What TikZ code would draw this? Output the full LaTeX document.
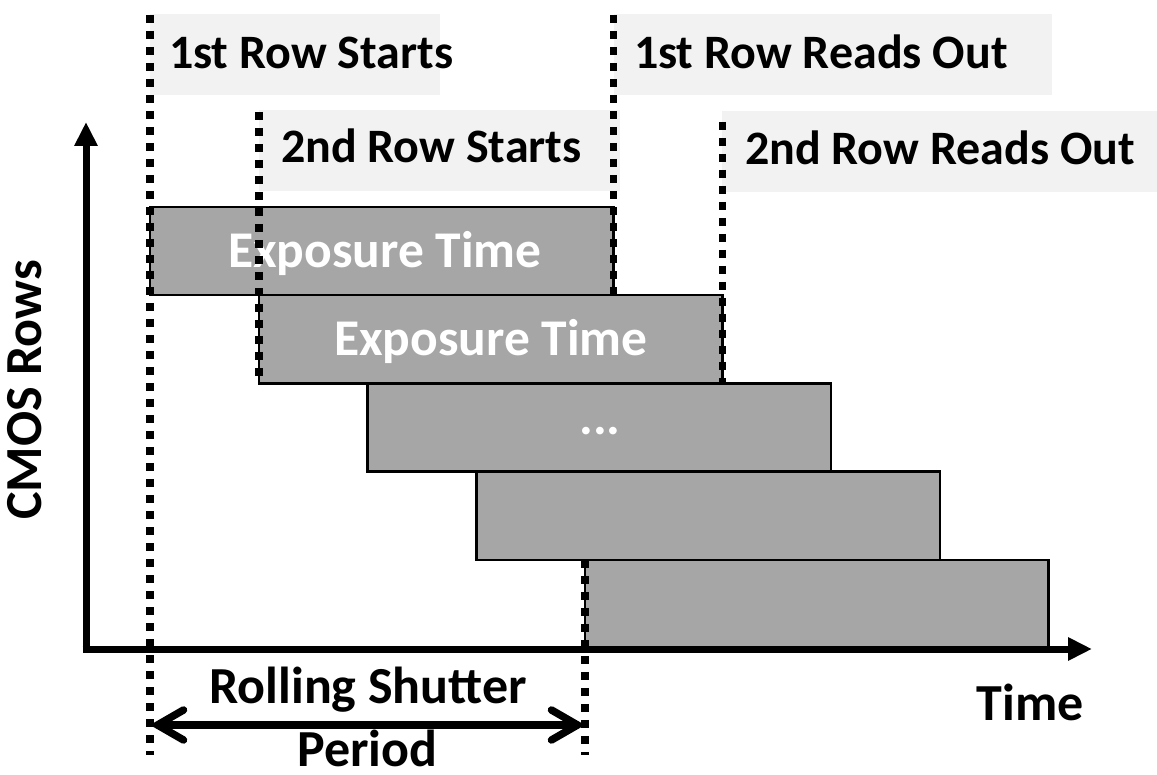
\documentclass[tikz,border=0pt]{standalone}
\usepackage{fontspec}
\setmainfont{Carlito}
\usetikzlibrary{arrows.meta}
\definecolor{barfill}{HTML}{A6A6A6}
\definecolor{tagfill}{HTML}{F2F2F2}
\begin{document}
\begin{tikzpicture}[x=1pt,y=-1pt,
  txt/.style={font=\fontsize{52}{56}\selectfont\bfseries, inner sep=0pt, outer sep=0pt},
  tagtxt/.style={font=\fontsize{48}{52}\selectfont\bfseries, inner sep=0pt, outer sep=0pt, anchor=base west},
  bar/.style={draw=black, line width=2.5pt, fill=barfill, minimum width=463.5pt,
    minimum height=88.2pt, anchor=north west, inner sep=0pt, outer sep=0pt},
  bartxt/.style={font=\fontsize{51.5}{56}\selectfont\bfseries, inner sep=0pt, outer sep=0pt, text=white, anchor=base},
  tag/.style={fill=tagfill, anchor=north west, inner sep=0pt, outer sep=0pt},
  dotline/.style={line width=7.5pt, dash pattern=on 8pt off 8pt},
  axisline/.style={line width=7pt, -{Triangle[length=24pt,width=22pt]}},
  span/.style={line width=7.5pt, line cap=round,
    {Straight Barb[length=26pt,width=30pt,line cap=round]}-{Straight Barb[length=26pt,width=30pt,line cap=round]}},
]
\useasboundingbox (0,0) rectangle (1157,775);

% label backgrounds
\node[tag, minimum width=290pt, minimum height=81pt] (t1) at (150,14) {};
\node[tag, minimum width=361pt, minimum height=81pt] (t2) at (259,110) {};
\node[tag, minimum width=438pt, minimum height=81pt] (t3) at (613.5,14) {};
\node[tag, minimum width=435pt, minimum height=81pt] (t4) at (722,111) {};

% label texts
\node[tagtxt] (l1) at (169,69) {1st Row Starts};
\node[tagtxt] (l2) at (281,163) {2nd Row Starts};
\node[tagtxt] (l3) at (634,69) {1st Row Reads Out};
\node[tagtxt] (l4) at (745,165) {2nd Row Reads Out};

% exposure bars
\node[bar] (b1) at (150,207) {};
\node[bar] (b2) at (258.75,295.2) {};
\node[bar] (b3) at (367.5,383.4) {};
\node[bar] (b4) at (476.25,471.6) {};
\node[bar] (b5) at (585,559.8) {};
\node[bartxt] (e1) at (385,268) {Exposure Time};
\node[bartxt] (e2) at (491,356) {Exposure Time};
\node[bartxt] (e3) at (600,435) {...};

% dotted markers
\coordinate (aTop) at (150,15);
\coordinate (aBot) at (150,755);
\coordinate (bTop) at (258.75,112);
\coordinate (cTop) at (613.5,15);
\coordinate (dTop) at (722.25,122);
\coordinate (eBot) at (585,755);
\draw[dotline] (aTop) -- (aBot);
\draw[dotline] (bTop) -- (b2.south west);
\draw[dotline] (cTop) -- (b1.south east);
\draw[dotline] (dTop) -- (b2.south east);
\draw[dotline] (b5.north west) -- (eBot);

% axes
\coordinate (origin) at (86,649);
\coordinate (yEnd) at (86,122);
\coordinate (xEnd) at (1092,649);
\draw[axisline] ([yshift=-3.5pt]origin) -- (yEnd);
\draw[axisline] ([xshift=-3.5pt]origin) -- (xEnd);

\node[txt, rotate=90, anchor=base] (ylab) at (41,390) {CMOS Rows};
\node[txt, anchor=base] (xlab) at (1030,720) {Time};

% rolling shutter period
\coordinate (rsL) at (150,725);
\coordinate (rsR) at (585,725);
\draw[span] (rsL) -- (rsR);
\node[txt, anchor=base] (rs1) at (368,703) {Rolling Shutter};
\node[txt, anchor=base] (rs2) at (367.5,766) {Period};
\end{tikzpicture}
\end{document}
